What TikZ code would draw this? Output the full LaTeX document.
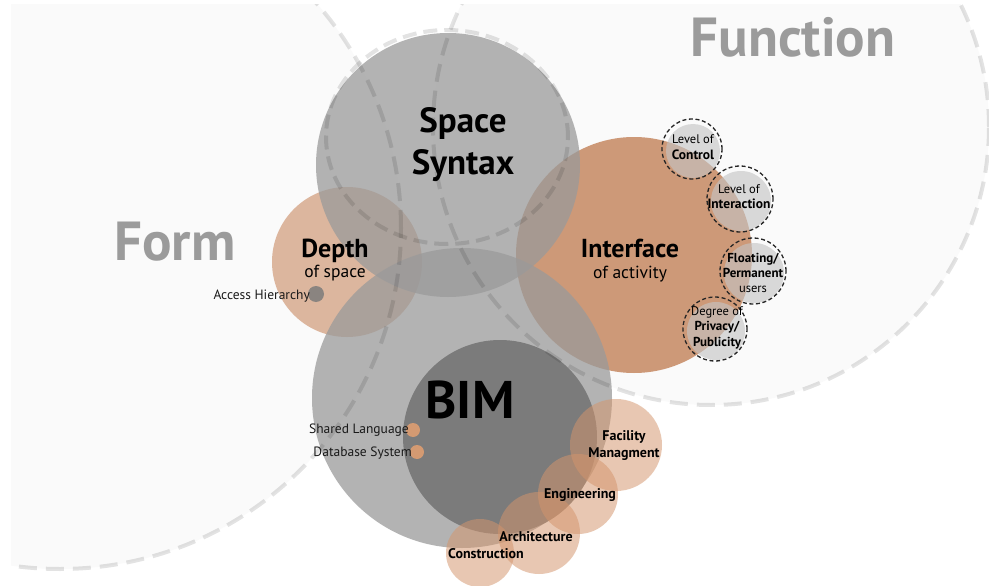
\documentclass[tikz,border=0pt]{standalone}
\usepackage{fontspec}
\setmainfont{PT Sans}
\definecolor{zonefill}{HTML}{FAFAFA}
\definecolor{diskgray}{HTML}{9A9A9A}
\definecolor{innergray}{HTML}{7B7B7B}
\definecolor{depthorange}{HTML}{D09A78}
\definecolor{ifaceorange}{HTML}{CC9674}
\definecolor{lightorange}{HTML}{D4956C}
\definecolor{smallgray}{HTML}{C4C4C4}
\definecolor{zonetext}{HTML}{9B9B9B}
\definecolor{dotgray}{HTML}{8A8480}
\definecolor{dotorange}{HTML}{D49A72}
\begin{document}
\begin{tikzpicture}[x=1pt,y=-1pt,
  zonebg/.style={fill=zonefill},
  zoneedge/.style={draw=black,draw opacity=0.11,line width=4pt,dash pattern=on 18pt off 9pt},
  ringedge/.style={draw=black,draw opacity=0.11,line width=4pt,dash pattern=on 14pt off 7pt},
  graydisk/.style={fill=diskgray,fill opacity=0.75},
  smalldisk/.style={fill=smallgray,fill opacity=0.62},
  smallring/.style={draw=black!85,line width=1.3pt,dash pattern=on 4pt off 2.6pt},
  pale/.style={fill=lightorange,fill opacity=0.52},
  lab/.style={inner sep=0pt,align=center,text=black,anchor=base},
  bigword/.style={inner sep=0pt,anchor=base,text=zonetext,font=\fontsize{55}{55}\selectfont\bfseries},
  side/.style={inner sep=0pt,anchor=base east,text=black!90,font=\fontsize{13.5}{15}\selectfont}]
\useasboundingbox (0,0) rectangle (989,586);
\fill[white] (0,0) rectangle (989,586);
% big zones
\begin{scope}
\clip (11,5) rectangle (989,590);
\fill[zonebg] (60,228) circle[radius=341pt];
\fill[zonebg] (711,127) circle[radius=278pt];
\end{scope}
% orange discs
\fill[ifaceorange,fill opacity=0.97] (634,255) circle[radius=118pt];
\fill[depthorange,fill opacity=0.7] (347,262) circle[radius=75pt];
% gray discs
\fill[graydisk] (448,165) circle[radius=132pt];
\fill[graydisk] (462,398) circle[radius=150pt];
\fill[innergray] (500,437) circle[radius=97pt];
% bottom pale discs
\fill[pale] (616,445) circle[radius=46pt];
\fill[pale] (578,494) circle[radius=40pt];
\fill[pale] (539,533) circle[radius=41pt];
\fill[pale] (480,553) circle[radius=34pt];
% small dashed discs
\fill[smalldisk] (693,151) circle[radius=27pt];
\draw[smallring] (692,149) circle[radius=30pt];
\fill[smalldisk] (741,201) circle[radius=30pt];
\draw[smallring] (740,199) circle[radius=33pt];
\fill[smalldisk] (754,273) circle[radius=30pt];
\draw[smallring] (753,271) circle[radius=33pt];
\fill[smalldisk] (716,331) circle[radius=29pt];
\draw[smallring] (715,329) circle[radius=32pt];
% dots
\fill[dotgray] (316,294) circle[radius=8pt];
\fill[dotorange] (413,430) circle[radius=7pt];
\fill[dotorange] (417,452) circle[radius=7pt];
% dashed rings
\begin{scope}
\clip (11,5) rectangle (989,590);
\draw[zoneedge] (60,228) circle[radius=341pt];
\draw[zoneedge] (711,127) circle[radius=278pt];
\end{scope}
\draw[ringedge] (447,137) ellipse[x radius=121pt,y radius=107pt];
% texts
\node[bigword] (function) at (793,57) {Function};
\node[bigword] (form) at (175,260) {Form};
\node[lab,font=\fontsize{35}{43}\selectfont\bfseries] (spacesyntax) at (463,175) {Space\\Syntax};
\node[lab,font=\fontsize{26}{20}\selectfont] (depth) at (335,277) {\bfseries Depth\\\fontsize{17.5}{20}\selectfont of space};
\node[lab,font=\fontsize{26}{21}\selectfont] (interface) at (630,278) {\bfseries Interface\\\fontsize{17.5}{21}\selectfont of activity};
\node[lab,font=\fontsize{53}{53}\selectfont\bfseries] (bim) at (470,418) {BIM};
\node[lab,font=\fontsize{12.5}{17}\selectfont] (control) at (693,160) {Level of\\\fontsize{13.5}{17}\selectfont\bfseries Control};
\node[lab,font=\fontsize{12.5}{15}\selectfont] (interaction) at (739,208) {Level of\\\fontsize{13.5}{15}\selectfont\bfseries Interaction};
\node[lab,font=\fontsize{13}{15}\selectfont\bfseries] (floating) at (753,292) {Floating/\\Permanent\\\fontsize{12.5}{15}\selectfont\mdseries users};
\node[lab,font=\fontsize{12.5}{15.5}\selectfont] (privacy) at (717,346) {Degree of\\\fontsize{13}{15.5}\selectfont\bfseries Privacy/\\\fontsize{13}{15.5}\selectfont\bfseries Publicity};
\node[lab,font=\fontsize{14}{17}\selectfont\bfseries] (facility) at (624,457) {Facility\\Managment};
\node[lab,font=\fontsize{14}{17}\selectfont\bfseries] (engineering) at (580,498) {Engineering};
\node[lab,font=\fontsize{14}{17}\selectfont\bfseries] (architecture) at (536,541) {Architecture};
\node[lab,font=\fontsize{14}{17}\selectfont\bfseries] (construction) at (486,558) {Construction};
\node[side] (access) at (310,299) {Access Hierarchy};
\node[side] (shared) at (409,433) {Shared Language};
\node[side] (database) at (412,456) {Database System};
\end{tikzpicture}
\end{document}
